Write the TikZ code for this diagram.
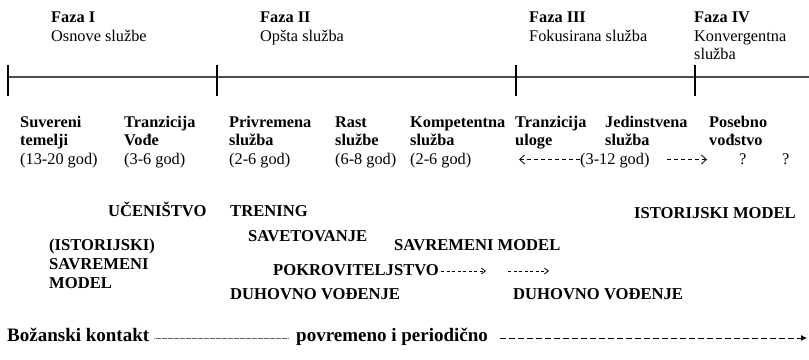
\documentclass[tikz,border=0pt]{standalone}
\usepackage{fontspec}
\setmainfont{Liberation Serif}
\usetikzlibrary{arrows.meta}
\begin{document}
\begin{tikzpicture}[x=1pt,y=-1pt,
  txt/.style={inner sep=0pt, anchor=base west, align=left, font=\fontsize{16.3}{18.5}\selectfont},
  caps/.style={txt, font=\fontsize{16.6}{19}\selectfont\bfseries},
  bottom/.style={txt, font=\fontsize{19}{21}\selectfont\bfseries},
  tick/.style={line width=1.2pt, black},
  axis/.style={line width=1.5pt, black!70},
  dasharrow/.style={dash pattern=on 4pt off 3pt, line width=0.8pt, -{Straight Barb[length=5pt,width=9pt]}},
  smallarrow/.style={dash pattern=on 3pt off 2.5pt, line width=0.8pt, -{Straight Barb[length=4pt,width=6pt]}},
  dotline/.style={line width=1pt, black!60, dash pattern=on 0.7pt off 0.5pt},
  longarrow/.style={line width=0.9pt, dash pattern=on 5.5pt off 3.5pt, -{Latex[length=6pt,width=6pt]}}
]
\useasboundingbox (0,0) rectangle (809,359);

% phase headings (base anchor = last line)
\node[txt] (f1) at (51,41) {\textbf{Faza I}\\Osnove službe};
\node[txt] (f2) at (260,41) {\textbf{Faza II}\\Opšta služba};
\node[txt] (f3) at (529,41) {\textbf{Faza III}\\Fokusirana služba};
\node[txt] (f4) at (694,59.5) {\textbf{Faza IV}\\Konvergentna\\služba};

% timeline
\coordinate (axL) at (8,77);
\coordinate (axR) at (809,77);
\draw[axis] (axL) -- (axR);
\foreach \x/\n in {8/t0,217/t1,516/t2,695/t3}{
  \coordinate (\n a) at (\x,65);
  \coordinate (\n b) at (\x,96);
  \draw[tick] (\n a) -- (\n b);
}

% stages
\node[txt] (s1) at (20,164) {\textbf{Suvereni}\\\textbf{temelji}\\(13-20 god)};
\node[txt] (s2) at (124,164) {\textbf{Tranzicija}\\\textbf{Vođe}\\(3-6 god)};
\node[txt] (s3) at (229,164) {\textbf{Privremena}\\\textbf{služba}\\(2-6 god)};
\node[txt] (s4) at (335,164) {\textbf{Rast}\\\textbf{službe}\\(6-8 god)};
\node[txt] (s5) at (410,164) {\textbf{Kompetentna}\\\textbf{služba}\\(2-6 god)};
\node[txt] (s6) at (515,145.5) {\textbf{Tranzicija}\\\textbf{uloge}};
\node[txt] (s7) at (605,145.5) {\textbf{Jedinstvena}\\\textbf{služba}};
\node[txt] (s8) at (709,145.5) {\textbf{Posebno}\\\textbf{vođstvo}};
\node[txt] (yrs) at (580,164) {(3-12 god)};
\node[txt] (q1) at (739,164) {?};
\node[txt] (q2) at (782,164) {?};
\coordinate (lend) at (519,159.5);
\coordinate (rstart) at (667,159.5);
\coordinate (rend) at (707,159.5);
\draw[dasharrow] (yrs.west |- lend) -- (lend);
\draw[dasharrow] (rstart) -- (rend);

% models
\node[caps] (uc) at (108,216) {UČENIŠTVO};
\node[caps] (tr) at (230,216) {TRENING};
\node[caps] (im) at (634,218) {ISTORIJSKI MODEL};
\node[caps] (sv) at (248,241) {SAVETOVANJE};
\node[caps] (ism) at (49,288.5) {(ISTORIJSKI)\\SAVREMENI\\MODEL};
\node[caps] (sm) at (394,250) {SAVREMENI MODEL};
\node[caps] (pk) at (273,275) {POKROVITELJSTVO};
\coordinate (pa1) at (486,271);
\coordinate (pb0) at (508,271);
\coordinate (pb1) at (549,271);
\draw[smallarrow] ([xshift=2pt]pk.east |- pa1) -- (pa1);
\draw[smallarrow] (pb0) -- (pb1);
\node[caps] (dv1) at (230,299) {DUHOVNO VOĐENJE};
\node[caps] (dv2) at (513,299) {DUHOVNO VOĐENJE};

% bottom line
\node[bottom] (bk) at (7,341) {Božanski kontakt};
\node[bottom] (pp) at (296,341) {povremeno i periodično};
\draw[dotline] ([xshift=5pt]bk.east |- 0,338) -- ([xshift=-8pt]pp.west |- 0,338);
\coordinate (bend) at (807,338);
\draw[longarrow] ([xshift=12pt]pp.east |- bend) -- (bend);
\end{tikzpicture}
\end{document}
